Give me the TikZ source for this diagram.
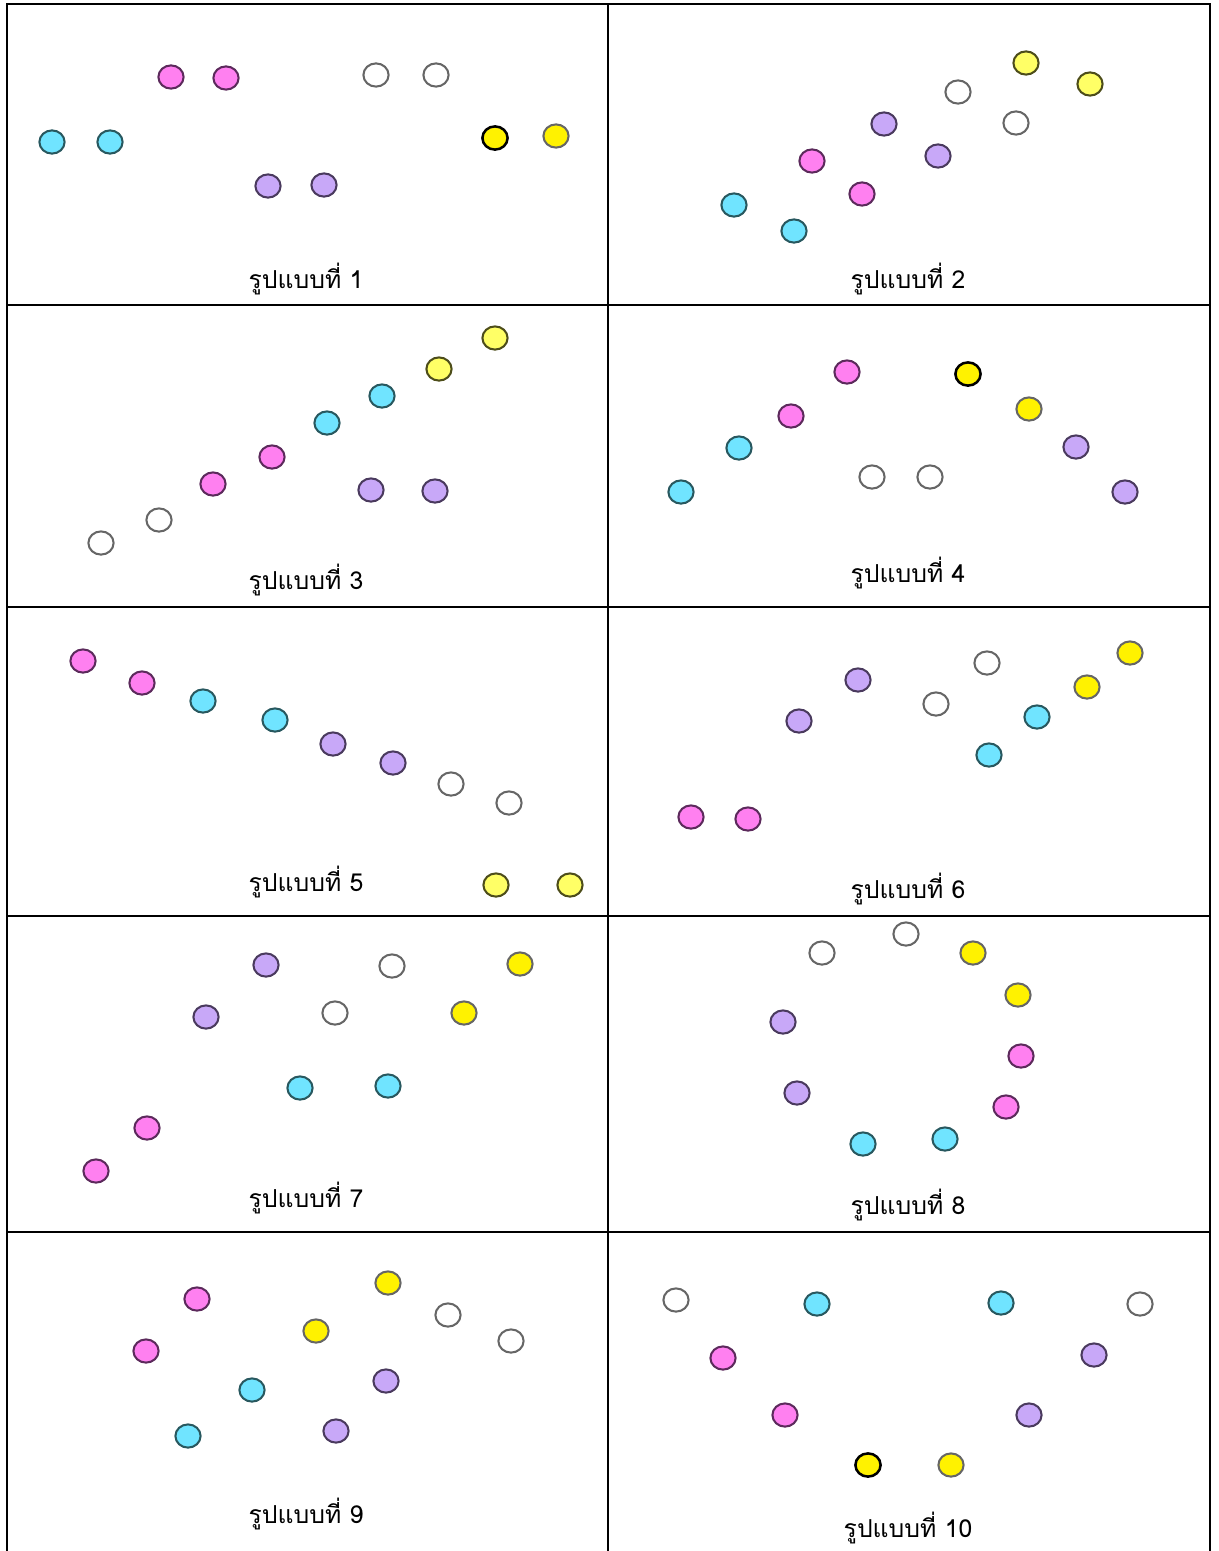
\documentclass[tikz,border=0pt]{standalone}
\usepackage{fontspec}
\newfontfamily\thaifont[Script=Thai]{Loma}
\usetikzlibrary{shapes.geometric}
\definecolor{pinkfill}{HTML}{FF80F0}
\definecolor{pinkline}{HTML}{5C2A5C}
\definecolor{cyanfill}{HTML}{70E4FF}
\definecolor{cyanline}{HTML}{28585F}
\definecolor{lilacfill}{HTML}{C8A8F8}
\definecolor{lilacline}{HTML}{4A3A5E}
\definecolor{greyline}{HTML}{666666}
\definecolor{paleyellow}{HTML}{FFFF66}
\definecolor{oliveline}{HTML}{4D4D1A}
\tikzset{
  dot/.style={ellipse, line width=1.45pt, minimum width=6.3mm, minimum height=5.8mm, inner sep=0pt},
  pinkdot/.style={dot, fill=pinkfill, draw=pinkline},
  cyandot/.style={dot, fill=cyanfill, draw=cyanline},
  lilacdot/.style={dot, fill=lilacfill, draw=lilacline},
  whitedot/.style={dot, fill=white, draw=greyline},
  yellowdot/.style={dot, fill=yellow, draw=greyline},
  paledot/.style={dot, fill=paleyellow, draw=oliveline},
  blackdot/.style={dot, fill=yellow, draw=black, line width=1.8pt},
  caption/.style={font=\thaifont\fontsize{17.6}{20}\selectfont, inner sep=0pt},
  rule/.style={line width=1.4pt, black}
}

\begin{document}
\begin{tikzpicture}[x=0.025cm, y=-0.025cm]
\useasboundingbox (0,0) rectangle (1218,1551);
% table
\draw[rule] (7,1551) -- (7,4) -- (1210,4) -- (1210,1551);
\draw[rule] (608,4) -- (608,1551);
\foreach \y in {305,607,916,1232} \draw[rule] (7,\y) -- (1210,\y);

% pattern 1
\node[cyandot] (p1cy1) at (52,142) {}; \node[cyandot] (p1cy2) at (110,142) {};
\node[pinkdot] (p1pk1) at (171,77) {}; \node[pinkdot] (p1pk2) at (226,78) {};
\node[whitedot] (p1wh1) at (376,75) {}; \node[whitedot] (p1wh2) at (436,75) {};
\node[lilacdot] (p1li1) at (268,186) {}; \node[lilacdot] (p1li2) at (324,185) {};
\node[blackdot] (p1ye1) at (495,138) {}; \node[yellowdot] (p1ye2) at (556,136) {};
\node[caption] (lab1) at (306,279) {รูปแบบที่ 1};

% pattern 2
\node[cyandot] (p2cy1) at (734,205) {}; \node[cyandot] (p2cy2) at (794,231) {};
\node[pinkdot] (p2pk1) at (812,161) {}; \node[pinkdot] (p2pk2) at (862,194) {};
\node[lilacdot] (p2li1) at (884,124) {}; \node[lilacdot] (p2li2) at (938,156) {};
\node[whitedot] (p2wh1) at (958,92) {}; \node[whitedot] (p2wh2) at (1016,123) {};
\node[paledot] (p2ye1) at (1026,63) {}; \node[paledot] (p2ye2) at (1090,84) {};
\node[caption] (lab2) at (908,279) {รูปแบบที่ 2};

% pattern 3
\node[whitedot] (p3wh1) at (101,543) {}; \node[whitedot] (p3wh2) at (159,520) {};
\node[pinkdot] (p3pk1) at (213,484) {}; \node[pinkdot] (p3pk2) at (272,457) {};
\node[cyandot] (p3cy1) at (327,423) {}; \node[cyandot] (p3cy2) at (382,396) {};
\node[paledot] (p3ye1) at (439,369) {}; \node[paledot] (p3ye2) at (495,338) {};
\node[lilacdot] (p3li1) at (371,490) {}; \node[lilacdot] (p3li2) at (435,491) {};
\node[caption] (lab3) at (306,580) {รูปแบบที่ 3};

% pattern 4
\node[cyandot] (p4cy1) at (681,492) {}; \node[cyandot] (p4cy2) at (739,448) {};
\node[pinkdot] (p4pk1) at (791,416) {}; \node[pinkdot] (p4pk2) at (847,372) {};
\node[blackdot] (p4ye1) at (968,374) {}; \node[yellowdot] (p4ye2) at (1029,409) {};
\node[lilacdot] (p4li1) at (1076,447) {}; \node[lilacdot] (p4li2) at (1125,492) {};
\node[whitedot] (p4wh1) at (872,477) {}; \node[whitedot] (p4wh2) at (930,477) {};
\node[caption] (lab4) at (908,573) {รูปแบบที่ 4};

% pattern 5
\node[pinkdot] (p5pk1) at (83,661) {}; \node[pinkdot] (p5pk2) at (142,683) {};
\node[cyandot] (p5cy1) at (203,701) {}; \node[cyandot] (p5cy2) at (275,720) {};
\node[lilacdot] (p5li1) at (333,744) {}; \node[lilacdot] (p5li2) at (393,763) {};
\node[whitedot] (p5wh1) at (451,784) {}; \node[whitedot] (p5wh2) at (509,803) {};
\node[paledot] (p5ye1) at (496,885) {}; \node[paledot] (p5ye2) at (570,885) {};
\node[caption] (lab5) at (306,882) {รูปแบบที่ 5};

% pattern 6
\node[pinkdot] (p6pk1) at (691,817) {}; \node[pinkdot] (p6pk2) at (748,819) {};
\node[lilacdot] (p6li1) at (799,721) {}; \node[lilacdot] (p6li2) at (858,680) {};
\node[whitedot] (p6wh1) at (936,704) {}; \node[whitedot] (p6wh2) at (987,663) {};
\node[cyandot] (p6cy1) at (989,755) {}; \node[cyandot] (p6cy2) at (1037,717) {};
\node[yellowdot] (p6ye1) at (1087,687) {}; \node[yellowdot] (p6ye2) at (1130,653) {};
\node[caption] (lab6) at (908,889) {รูปแบบที่ 6};

% pattern 7
\node[pinkdot] (p7pk1) at (96,1171) {}; \node[pinkdot] (p7pk2) at (147,1128) {};
\node[lilacdot] (p7li1) at (206,1017) {}; \node[lilacdot] (p7li2) at (266,965) {};
\node[whitedot] (p7wh1) at (335,1013) {}; \node[whitedot] (p7wh2) at (392,966) {};
\node[yellowdot] (p7ye1) at (464,1013) {}; \node[yellowdot] (p7ye2) at (520,964) {};
\node[cyandot] (p7cy1) at (300,1088) {}; \node[cyandot] (p7cy2) at (388,1086) {};
\node[caption] (lab7) at (306,1198) {รูปแบบที่ 7};

% pattern 8
\node[whitedot] (p8wh1) at (822,953) {}; \node[whitedot] (p8wh2) at (906,934) {};
\node[yellowdot] (p8ye1) at (973,953) {}; \node[yellowdot] (p8ye2) at (1018,995) {};
\node[pinkdot] (p8pk1) at (1021,1056) {}; \node[pinkdot] (p8pk2) at (1006,1107) {};
\node[cyandot] (p8cy1) at (945,1139) {}; \node[cyandot] (p8cy2) at (863,1144) {};
\node[lilacdot] (p8li1) at (797,1093) {}; \node[lilacdot] (p8li2) at (783,1022) {};
\node[caption] (lab8) at (908,1205) {รูปแบบที่ 8};

% pattern 9
\node[pinkdot] (p9pk1) at (197,1299) {}; \node[pinkdot] (p9pk2) at (146,1351) {};
\node[cyandot] (p9cy1) at (252,1390) {}; \node[cyandot] (p9cy2) at (188,1436) {};
\node[yellowdot] (p9ye1) at (316,1331) {}; \node[yellowdot] (p9ye2) at (388,1283) {};
\node[whitedot] (p9wh1) at (448,1315) {}; \node[whitedot] (p9wh2) at (511,1341) {};
\node[lilacdot] (p9li1) at (386,1381) {}; \node[lilacdot] (p9li2) at (336,1431) {};
\node[caption] (lab9) at (306,1514) {รูปแบบที่ 9};

% pattern 10
\node[whitedot] (p10wh1) at (676,1300) {}; \node[whitedot] (p10wh2) at (1140,1304) {};
\node[cyandot] (p10cy1) at (817,1304) {}; \node[cyandot] (p10cy2) at (1001,1303) {};
\node[pinkdot] (p10pk1) at (723,1358) {}; \node[pinkdot] (p10pk2) at (785,1415) {};
\node[lilacdot] (p10li1) at (1094,1355) {}; \node[lilacdot] (p10li2) at (1029,1415) {};
\node[blackdot] (p10ye1) at (868,1465) {}; \node[yellowdot] (p10ye2) at (951,1465) {};
\node[caption] (lab10) at (908,1528) {รูปแบบที่ 10};
\end{tikzpicture}
\end{document}
